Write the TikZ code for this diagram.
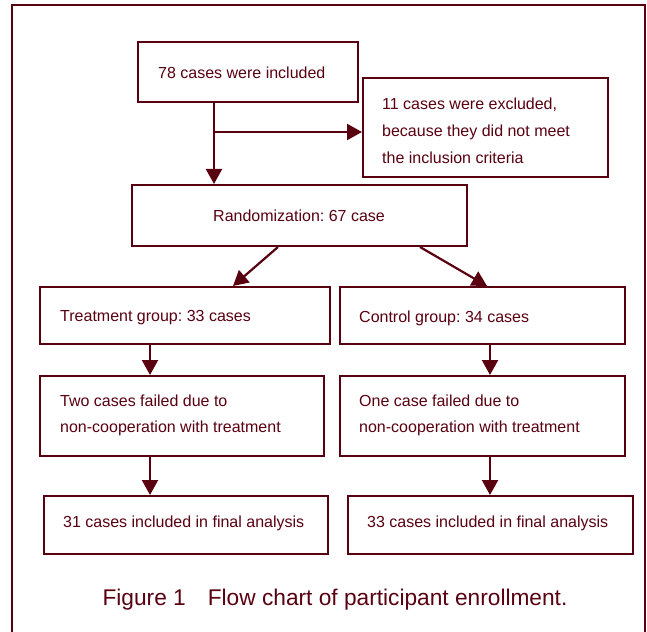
\documentclass[tikz,border=0pt]{standalone}
\usepackage{fontspec}
\setmainfont{Liberation Sans}
\usetikzlibrary{arrows.meta,calc}
\definecolor{maroon}{HTML}{580010}
\frenchspacing
\begin{document}
\begin{tikzpicture}[x=1pt,y=-1pt,
  box/.style={draw=maroon, line width=2pt, rectangle, inner sep=0pt, anchor=north west},
  txt/.style={text=maroon, font=\fontsize{16}{27}\selectfont, anchor=west, inner sep=0pt, align=left},
  arr/.style={draw=maroon, line width=2.2pt, -{Triangle[length=15pt,width=16pt]}}]
\useasboundingbox (0,0) rectangle (647,631);
\draw[draw=maroon, line width=2pt] (12,640) -- (12,5) -- (645,5) -- (645,640);
% boxes
\node[box, minimum width=220pt, minimum height=60pt] (b1) at (137,41) {};
\node[box, minimum width=245pt, minimum height=99pt] (bx) at (362,77) {};
\node[box, minimum width=335pt, minimum height=61pt] (br) at (131,184) {};
\node[box, minimum width=290pt, minimum height=57pt] (bt) at (39,286) {};
\node[box, minimum width=285pt, minimum height=57pt] (bc) at (339,286) {};
\node[box, minimum width=284pt, minimum height=80pt] (ft) at (39,375) {};
\node[box, minimum width=285pt, minimum height=80pt] (fc) at (339,375) {};
\node[box, minimum width=284pt, minimum height=58pt] (at) at (43,495) {};
\node[box, minimum width=285pt, minimum height=58pt] (ac) at (347,495) {};
% texts
\node[txt] (t1) at (158,73) {78 cases were included};
\node[txt] (tx) at (382,131) {11 cases were excluded,\\because they did not meet\\the inclusion criteria};
\node[txt] (tr) at (213,216) {Randomization: 67 case};
\node[txt] (tt) at (60,318) {Treatment group: 33 cases};
\node[txt] (tc) at (359,318) {Control group: 34 cases};
\node[txt, font=\fontsize{16}{26}\selectfont] (tft) at (60,415) {Two cases failed due to\\non-cooperation with treatment};
\node[txt, font=\fontsize{16}{26}\selectfont] (tfc) at (359,415) {One case failed due to\\non-cooperation with treatment};
\node[txt] (tat) at (63,523) {31 cases included in final analysis};
\node[txt] (tac) at (367,523) {33 cases included in final analysis};
\node[text=maroon, font=\fontsize{22.7}{26}\selectfont, inner sep=0pt] (cap) at (335,600) {Figure 1\hspace{22pt}Flow chart of participant enrollment.};
% connectors
\coordinate (v1) at ([xshift=77pt]b1.south west);
\coordinate (j1) at ($(v1)+(0,29)$);
\draw[arr] (v1) -- (v1 |- br.north);
\draw[arr] (j1) -- (j1 -| bx.west);
\draw[arr] ([xshift=147pt]br.south west) -- ([xshift=194pt]bt.north west);
\draw[arr] ([xshift=289pt]br.south west) -- ([xshift=148pt]bc.north west);
\draw[arr] ([xshift=111pt]bt.south west) -- ([xshift=111pt]ft.north west);
\draw[arr] ([xshift=151pt]bc.south west) -- ([xshift=151pt]fc.north west);
\draw[arr] ([xshift=111pt]ft.south west) -- ([xshift=107pt]at.north west);
\draw[arr] ([xshift=151pt]fc.south west) -- ([xshift=143pt]ac.north west);
\end{tikzpicture}
\end{document}
